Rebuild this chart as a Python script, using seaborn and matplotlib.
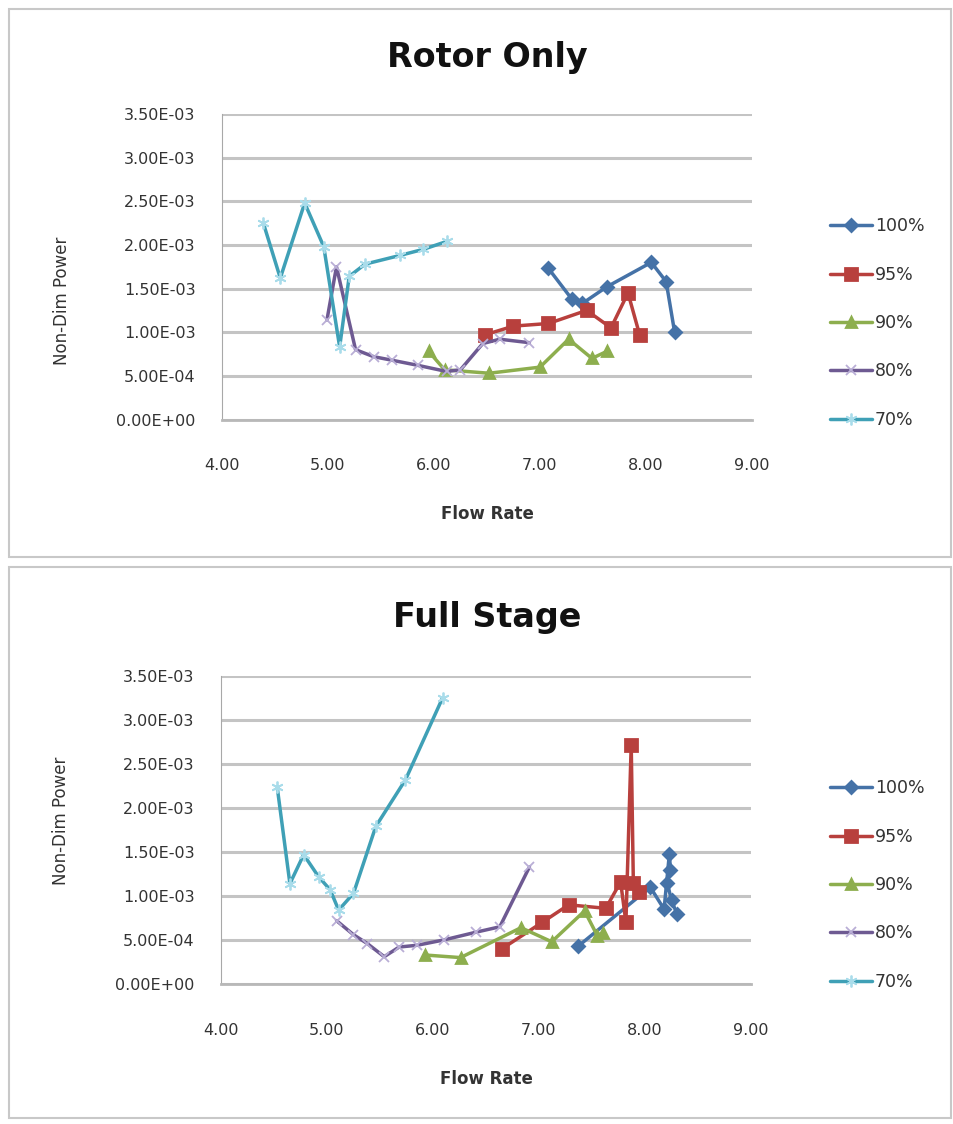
import pandas as pd
import matplotlib
matplotlib.use("Agg")
import matplotlib.pyplot as plt
from matplotlib.patches import Rectangle
from matplotlib.ticker import FuncFormatter, MultipleLocator
import seaborn as sns

# ============================================================
# data
# ============================================================

speeds = ["100%", "95%", "90%", "80%", "70%"]

# Rotor Only
rotor_x_100 = [7.08, 7.30, 7.40, 7.63, 8.05, 8.19, 8.27]
rotor_y_100 = [1.73, 1.38, 1.33, 1.52, 1.80, 1.58, 1.00]
rotor_x_95 = [6.48, 6.75, 7.08, 7.44, 7.67, 7.83, 7.94]
rotor_y_95 = [0.97, 1.07, 1.10, 1.25, 1.05, 1.45, 0.97]
rotor_x_90 = [5.95, 6.10, 6.52, 7.00, 7.27, 7.49, 7.63]
rotor_y_90 = [0.78, 0.57, 0.53, 0.60, 0.92, 0.70, 0.78]
rotor_x_80 = [4.99, 5.08, 5.26, 5.43, 5.60, 5.85, 6.12, 6.25, 6.46, 6.62, 6.90]
rotor_y_80 = [1.14, 1.75, 0.80, 0.72, 0.68, 0.62, 0.55, 0.57, 0.87, 0.92, 0.88]
rotor_x_70 = [4.39, 4.55, 4.78, 4.96, 5.11, 5.20, 5.35, 5.68, 5.90, 6.12]
rotor_y_70 = [2.25, 1.62, 2.48, 1.98, 0.83, 1.64, 1.78, 1.88, 1.95, 2.04]

# Full Stage
stage_x_100 = [7.37, 8.05, 8.18, 8.23, 8.24, 8.21, 8.25, 8.30]
stage_y_100 = [0.43, 1.10, 0.85, 1.48, 1.30, 1.15, 0.95, 0.80]
stage_x_95 = [6.65, 7.03, 7.28, 7.63, 7.77, 7.82, 7.87, 7.89, 7.94]
stage_y_95 = [0.40, 0.70, 0.90, 0.86, 1.16, 0.70, 2.72, 1.15, 1.05]
stage_x_90 = [5.92, 6.26, 6.83, 7.12, 7.43, 7.55, 7.60]
stage_y_90 = [0.33, 0.30, 0.64, 0.48, 0.83, 0.55, 0.58]
stage_x_80 = [5.09, 5.25, 5.38, 5.54, 5.68, 5.85, 6.10, 6.41, 6.63, 6.91]
stage_y_80 = [0.72, 0.56, 0.46, 0.31, 0.42, 0.44, 0.50, 0.59, 0.65, 1.33]
stage_x_70 = [4.53, 4.65, 4.78, 4.92, 5.03, 5.11, 5.25, 5.46, 5.74, 6.09]
stage_y_70 = [2.24, 1.14, 1.47, 1.22, 1.07, 0.84, 1.03, 1.79, 2.32, 3.25]

x_ticks = [4.0, 5.0, 6.0, 7.0, 8.0, 9.0]

rotor_xs = [rotor_x_100, rotor_x_95, rotor_x_90, rotor_x_80, rotor_x_70]
rotor_ys = [rotor_y_100, rotor_y_95, rotor_y_90, rotor_y_80, rotor_y_70]
stage_xs = [stage_x_100, stage_x_95, stage_x_90, stage_x_80, stage_x_70]
stage_ys = [stage_y_100, stage_y_95, stage_y_90, stage_y_80, stage_y_70]

# ============================================================
# style
# ============================================================

sns.set_style("white")
plt.rcParams["font.family"] = ["DejaVu Sans"]

palette = {"100%": "#4572A7", "95%": "#B8403D", "90%": "#8DAE4E",
           "80%": "#6E5A92", "70%": "#3FA0B6"}
edge = {"100%": "#4572A7", "95%": "#B8403D", "90%": "#8DAE4E",
        "80%": "#B9AED6", "70%": "#A9DCEA"}
markers = {"100%": "D", "95%": "s", "90%": "^", "80%": "x", "70%": (6, 2, 0)}
msizes = {"100%": 7, "95%": 10, "90%": 9, "80%": 9, "70%": 10}
mew = {"100%": 2, "95%": 2, "90%": 2, "80%": 1.3, "70%": 1.3}

W, H = 954, 1124
fig = plt.figure(figsize=(W / 100, H / 100), dpi=100)

# chart-area frames
for top, bot in [(9, 557), (567, 1118)]:
    fig.patches.append(Rectangle((9 / W, 1 - bot / H), 942 / W, (bot - top) / H,
                                 transform=fig.transFigure, fill=False,
                                 edgecolor="#C8C8C8", lw=1.5))


def draw_panel(xs, ys, rect, title, title_y, ylab_y, legend_y):
    ax = fig.add_axes(rect)
    for name, xv, yv in zip(speeds, xs, ys):
        df = pd.DataFrame({"flow": xv, "power": [v * 1e-3 for v in yv]})
        sns.lineplot(data=df, x="flow", y="power", sort=False, estimator=None,
                     color=palette[name], marker=markers[name],
                     markersize=msizes[name], markeredgecolor=edge[name],
                     markeredgewidth=mew[name], lw=2.5, label=name, ax=ax)

    ax.set_xlim(4.0, 9.0)
    ax.set_ylim(0, 3.5e-3)
    ax.set_xticks(x_ticks)
    ax.yaxis.set_major_locator(MultipleLocator(5e-4))
    ax.xaxis.set_major_formatter(FuncFormatter(lambda v, p: f"{v:.2f}"))
    ax.yaxis.set_major_formatter(FuncFormatter(lambda v, p: f"{v:.2E}"))
    ax.grid(axis="y", color="#C4C4C4", lw=2.2)
    ax.set_axisbelow(True)
    for s in ["top", "right"]:
        ax.spines[s].set_visible(False)
    ax.spines["left"].set_color("#A8A8A8")
    ax.spines["bottom"].set_color("#B8B8B8")
    ax.spines["bottom"].set_linewidth(2.0)
    ax.tick_params(axis="x", direction="out", length=5, color="#A8A8A8",
                   pad=23, labelsize=11.5, labelcolor="#333333")
    ax.tick_params(axis="y", direction="out", length=5, color="#A8A8A8",
                   pad=14, labelsize=11.5, labelcolor="#333333")
    ax.set_xlabel("Flow Rate", fontsize=12, fontweight="bold", color="#333333")
    ax.xaxis.set_label_coords(0.5, -0.28)
    ax.set_ylabel("Non-Dim Power", fontsize=12, color="#333333")
    ax.yaxis.set_label_coords(-0.285, ylab_y)

    handles, labels = ax.get_legend_handles_labels()
    for h in handles:
        h.set_markersize(h.get_markersize() * 0.85)
    ax.legend(handles, labels, loc="center left", frameon=False,
              bbox_to_anchor=(823 / W, legend_y), bbox_transform=fig.transFigure,
              fontsize=12.5, labelspacing=1.75, handlelength=2.4,
              handletextpad=0.2, borderaxespad=0, labelcolor="#333333")

    fig.text(487 / W, title_y, title, ha="center", va="center",
             fontsize=24, fontweight="bold", color="#111111")
    return ax


draw_panel(rotor_xs, rotor_ys, [222 / W, 1 - 419.5 / H, 530 / W, 305.5 / H],
           "Rotor Only", 1 - 58 / H, 0.39, 1 - 323 / H)
draw_panel(stage_xs, stage_ys, [221 / W, 1 - 984 / H, 530 / W, 308 / H],
           "Full Stage", 1 - 618 / H, 0.53, 1 - 885 / H)

fig.savefig("out.png", dpi=100)
